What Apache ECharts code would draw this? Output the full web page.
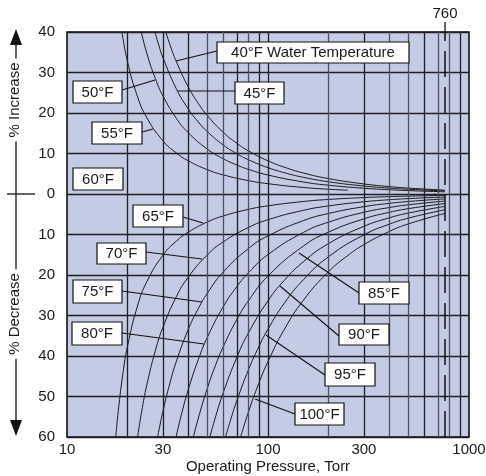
<!DOCTYPE html>
<html><head><meta charset="utf-8">
<script src="https://cdn.jsdelivr.net/npm/echarts@6/dist/echarts.min.js"></script>
<style>html,body{margin:0;padding:0;background:#fff}#c{width:486px;height:476px}</style>
</head><body><div id="c"></div>
<script>
// ---------- data ----------
const xTickLabels = [10, 30, 100, 300, 1000];
const yTickValues = [-60, -50, -40, -30, -20, -10, 0, 10, 20, 30, 40];
const gridPressures = [20, 30, 40, 50, 60, 70, 80, 90, 100, 200, 300, 400, 500, 600, 700, 800, 900];
const atmosphere = 760;
const labels = ['40°F Water Temperature', '45°F', '50°F', '55°F', '60°F', '65°F', '70°F', '75°F', '80°F', '85°F', '90°F', '95°F', '100°F'];

const t40 = [[31.0,40],[33,35.99],[35,32.67],[40,26.56],[45,22.38],[50,19.33],[60,15.19],[70,12.52],[80,10.64],[100,8.19],[125,6.35],[150,5.19],[200,3.80],[300,2.48],[400,1.84],[500,1.46],[760,0.95]];
const t45 = [[27.37,40],[28.5,37.03],[30,33.71],[35,25.96],[40,21.10],[45,17.78],[50,15.36],[60,12.07],[70,9.94],[80,8.45],[100,6.50],[125,5.05],[150,4.12],[200,3.02],[300,1.97],[400,1.46],[500,1.16],[760,0.76]];
const t50 = [[23.42,40],[25,34.61],[27.5,28.53],[30,24.27],[35,18.68],[40,15.19],[50,11.05],[60,8.69],[70,7.16],[80,6.08],[100,4.68],[150,2.97],[200,2.17],[300,1.42],[400,1.05],[500,0.83],[760,0.54]];
const t55 = [[18.77,40],[20,32.69],[22.5,23.84],[25,18.76],[30,13.15],[35,10.12],[40,8.23],[50,5.99],[60,4.71],[80,3.30],[100,2.54],[150,1.61],[200,1.18],[250,0.93]];
const t65 = [[17.49,-60],[18,-53.49],[19,-44.15],[20,-37.59],[22.5,-27.41],[25,-21.57],[30,-15.12],[35,-11.64],[40,-9.47],[50,-6.89],[60,-5.41],[80,-3.79],[100,-2.92],[150,-1.85],[200,-1.35],[300,-0.88],[400,-0.65],[500,-0.52],[760,-0.34]];
const t70 = [[22.45,-60],[23.5,-53.86],[25,-46.97],[27.5,-38.72],[30,-32.94],[35,-25.36],[40,-20.61],[50,-15.00],[60,-11.79],[80,-8.26],[100,-6.35],[150,-4.03],[200,-2.95],[300,-1.92],[400,-1.42],[500,-1.13],[760,-0.74]];
const t75 = [[28.24,-60],[30,-53.68],[32.5,-46.70],[35,-41.33],[40,-33.60],[45,-28.30],[50,-24.45],[60,-19.22],[80,-13.46],[100,-10.35],[150,-6.57],[200,-4.81],[300,-3.13],[400,-2.32],[500,-1.84],[760,-1.20]];
const t80 = [[34.89,-60],[37,-54.66],[40,-48.52],[45,-40.88],[50,-35.31],[60,-27.76],[70,-22.86],[80,-19.44],[100,-14.95],[150,-9.49],[200,-6.95],[300,-4.52],[400,-3.36],[500,-2.66],[760,-1.74]];
const t85 = [[42.55,-60],[45,-55.37],[50,-47.84],[55,-42.10],[60,-37.60],[70,-30.97],[80,-26.33],[100,-20.26],[150,-12.85],[200,-9.41],[300,-6.13],[400,-4.54],[500,-3.61],[760,-2.35]];
const t90 = [[51.39,-60],[55,-54.80],[60,-48.94],[70,-40.31],[80,-34.27],[100,-26.37],[120,-21.43],[150,-16.73],[200,-12.25],[300,-7.98],[400,-5.91],[500,-4.70],[760,-3.06]];
const t95 = [[61.50,-60],[65,-55.94],[70,-51.01],[80,-43.37],[90,-37.72],[100,-33.37],[120,-27.12],[150,-21.17],[200,-15.50],[300,-10.09],[400,-7.48],[500,-5.95],[760,-3.88]];
const t100 = [[73.07,-60],[80,-53.77],[90,-46.76],[100,-41.37],[120,-33.62],[150,-26.24],[200,-19.21],[250,-15.16],[300,-12.51],[400,-9.28],[500,-7.37],[760,-4.80]];

const curves = [t40, t45, t50, t55, t65, t70, t75, t80, t85, t90, t95, t100];

// ---------- layout / style (not data) ----------
const FONT = '"Liberation Sans", Arial, Helvetica, sans-serif';
const INK = '#1a1a1a';
const grayGrid = [50, 60, 80, 200, 400, 500, 700, 800];
// label boxes: [labelIndex, x, y, w, h, leaderFrom, leaderTo]
const boxes = [
  [0, 217, 42, 192, 21, [217, 51], [176, 61]],
  [1, 235, 82, 49, 22, [235, 91], [178, 91]],
  [2, 73, 81, 49, 22, [122, 90], [155, 80]],
  [3, 92, 122, 50, 22, [142, 132], [153, 129]],
  [4, 73, 168, 50, 22, null, null],
  [5, 133, 205, 50, 22, [183, 217], [203, 223]],
  [6, 97, 243, 49, 21, [146, 252], [202, 259]],
  [7, 73, 280, 49, 23, [122, 291], [202, 302]],
  [8, 72, 322, 50, 23, [122, 333], [204, 344]],
  [9, 359, 282, 50, 22, [359, 293], [299, 253]],
  [10, 339, 324, 50, 21, [339, 336], [280, 286]],
  [11, 325, 363, 50, 23, [325, 375], [266, 335]],
  [12, 295, 403, 49, 22, [295, 414], [255, 399]]
];

const chart = echarts.init(document.getElementById('c'), null, {renderer: 'canvas'});

const series = curves.map((d, i) => ({
  type: 'line', data: d, showSymbol: false, symbol: 'none',
  smooth: 0.5, silent: true,
  lineStyle: {color: INK, width: 1}, z: 3, animation: false
}));

series.push({
  type: 'line', data: [], silent: true, animation: false, z: 2,
  markLine: {
    silent: true, symbol: 'none', animation: false,
    label: {show: false},
    data: gridPressures.map(p => ({
      xAxis: p,
      lineStyle: {color: grayGrid.includes(p) ? '#4e5060' : '#1f1f24', width: 1.3, type: 'solid'}
    })).concat([{xAxis: atmosphere, lineStyle: {color: '#111', width: 1.5, type: [26, 10]}}])
  }
});

chart.setOption({
  animation: false,
  textStyle: {fontFamily: FONT},
  grid: {left: 67, top: 32, width: 402, height: 405, show: true, backgroundColor: '#c4cbe4', borderColor: '#111', borderWidth: 1.6, containLabel: false, outerBoundsMode: 'none'},
  xAxis: {
    type: 'log', logBase: 10, min: 10, max: 1000,
    axisLine: {show: false}, axisTick: {show: false}, splitLine: {show: false},
    axisLabel: {customValues: xTickLabels, color: INK, fontSize: 15, fontFamily: FONT, margin: 5, formatter: v => String(Math.round(v))},
    name: 'Operating Pressure, Torr', nameLocation: 'middle', nameGap: 22, nameMoveOverlap: false,
    nameTextStyle: {color: INK, fontSize: 15, fontFamily: FONT}
  },
  yAxis: {
    type: 'value', min: -60, max: 40, interval: 10,
    axisLine: {show: false}, axisTick: {show: false},
    splitLine: {show: true, lineStyle: {color: '#1f1f24', width: 1.3}},
    axisLabel: {color: INK, fontSize: 15, fontFamily: FONT, margin: 12, formatter: v => String(Math.abs(v))}
  },
  series: series
});

// decorations positioned from the axes
const xAtm = chart.convertToPixel({xAxisIndex: 0}, atmosphere);
const yTop = chart.convertToPixel({yAxisIndex: 0}, 40);
const yBot = chart.convertToPixel({yAxisIndex: 0}, -60);
const yZero = chart.convertToPixel({yAxisIndex: 0}, 0);

const g = [];
g.push({type: 'line', shape: {x1: xAtm, y1: yTop - 10, x2: xAtm, y2: yTop}, style: {stroke: '#111', lineWidth: 1.3}, z: 10});
g.push({type: 'text', x: xAtm, y: yTop - 18, style: {text: String(atmosphere), font: '15px ' + FONT, fill: INK, align: 'center', verticalAlign: 'middle'}, z: 10});

const ax = 16;
g.push({type: 'line', shape: {x1: ax, y1: yTop + 12, x2: ax, y2: yBot - 16}, style: {stroke: '#111', lineWidth: 1.3}, z: 10});
g.push({type: 'polygon', shape: {points: [[ax, yTop - 3], [ax - 6, yTop + 13], [ax + 6, yTop + 13]]}, style: {fill: '#111'}, z: 10});
g.push({type: 'polygon', shape: {points: [[ax, yBot - 1], [ax - 6, yBot - 17], [ax + 6, yBot - 17]]}, style: {fill: '#111'}, z: 10});
g.push({type: 'line', shape: {x1: 7, y1: yZero, x2: 35, y2: yZero}, style: {stroke: '#111', lineWidth: 1.3}, z: 10});
g.push({type: 'text', x: 15, y: 100, rotation: Math.PI / 2, style: {text: '% Increase', font: '15px ' + FONT, fill: INK, align: 'center', verticalAlign: 'middle', backgroundColor: '#fff', padding: [0, 4]}, z: 11});
g.push({type: 'text', x: 15, y: 314, rotation: Math.PI / 2, style: {text: '% Decrease', font: '15px ' + FONT, fill: INK, align: 'center', verticalAlign: 'middle', backgroundColor: '#fff', padding: [0, 4]}, z: 11});

boxes.forEach(([li, x, y, w, h, a, b]) => {
  if (a) g.push({type: 'line', shape: {x1: a[0], y1: a[1], x2: b[0], y2: b[1]}, style: {stroke: '#111', lineWidth: 1.1}, z: 20});
  g.push({type: 'rect', shape: {x: x, y: y, width: w, height: h}, style: {fill: '#fff', stroke: '#111', lineWidth: 1.2}, z: 21});
  g.push({type: 'text', x: x + w / 2, y: y + h / 2 + 0.5, style: {text: labels[li], font: '15px ' + FONT, fill: INK, align: 'center', verticalAlign: 'middle'}, z: 22});
});

chart.setOption({graphic: g});
</script></body></html>
